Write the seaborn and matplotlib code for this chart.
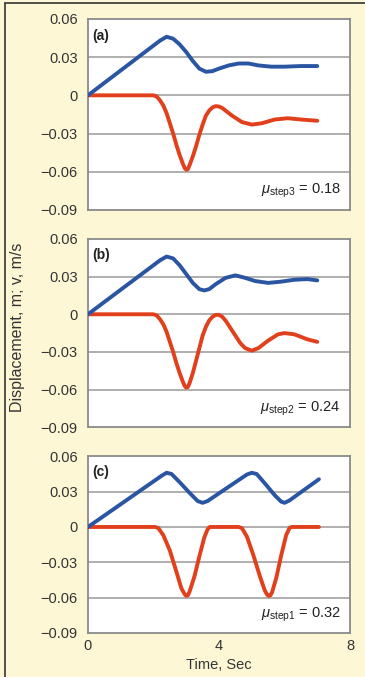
import numpy as np
import pandas as pd
import matplotlib
matplotlib.use("Agg")
import matplotlib.pyplot as plt
import seaborn as sns

# --- data (time in s, value in m or m/s) ---
blue_a_t = [0, 2.2, 2.4, 2.6, 2.8, 3.0, 3.2, 3.4, 3.6, 3.8, 4.0, 4.3, 4.6, 4.9, 5.2, 5.6, 6.0, 6.5, 7.0]
blue_a_v = [0, 0.043, 0.046, 0.0445, 0.04, 0.034, 0.027, 0.021, 0.0185, 0.019, 0.021, 0.0235, 0.025, 0.025,
            0.0235, 0.0225, 0.0225, 0.023, 0.023]
red_a_t = [0, 2.0, 2.1, 2.2, 2.3, 2.4, 2.5, 2.6, 2.7, 2.8, 2.9, 2.95, 3.0, 3.05, 3.1, 3.2, 3.3, 3.4, 3.5,
           3.6, 3.7, 3.8, 3.9, 4.0, 4.1, 4.4, 4.7, 5.0, 5.3, 5.7, 6.1, 6.5, 7.0]
red_a_v = [0, 0, -0.001, -0.004, -0.008, -0.014, -0.022, -0.03, -0.039, -0.047, -0.054, -0.057, -0.0585,
           -0.058, -0.055, -0.048, -0.04, -0.031, -0.023, -0.016, -0.012, -0.0095, -0.0085, -0.0088,
           -0.01, -0.016, -0.021, -0.023, -0.022, -0.019, -0.018, -0.019, -0.02]

blue_b_t = [0, 2.2, 2.4, 2.6, 2.8, 3.0, 3.2, 3.4, 3.55, 3.7, 3.9, 4.2, 4.5, 4.8, 5.1, 5.5, 5.9, 6.3, 6.7, 7.0]
blue_b_v = [0, 0.043, 0.046, 0.0445, 0.039, 0.032, 0.025, 0.02, 0.019, 0.02, 0.024, 0.029, 0.031, 0.029,
            0.0265, 0.025, 0.026, 0.0275, 0.028, 0.027]
red_b_t = [0, 2.0, 2.1, 2.2, 2.3, 2.4, 2.5, 2.6, 2.7, 2.8, 2.9, 2.95, 3.0, 3.05, 3.1, 3.2, 3.3, 3.4, 3.5,
           3.6, 3.7, 3.8, 3.9, 4.0, 4.1, 4.2, 4.35, 4.5, 4.65, 4.8, 5.0, 5.2, 5.5, 5.8, 6.0, 6.3, 6.7, 7.0]
red_b_v = [0, 0, -0.001, -0.004, -0.008, -0.014, -0.022, -0.03, -0.039, -0.047, -0.054, -0.057, -0.0585,
           -0.058, -0.055, -0.047, -0.037, -0.027, -0.017, -0.01, -0.005, -0.002, -0.0005, -0.0005,
           -0.002, -0.005, -0.011, -0.017, -0.023, -0.027, -0.029, -0.027, -0.021, -0.016, -0.015,
           -0.016, -0.02, -0.022]

blue_c_t = [0, 2.25, 2.4, 2.55, 2.8, 3.1, 3.35, 3.5, 3.65, 4.85, 5.0, 5.15, 5.4, 5.7, 5.9, 6.0, 6.15, 7.05]
blue_c_v = [0, 0.0435, 0.046, 0.045, 0.038, 0.029, 0.022, 0.0205, 0.022, 0.0445, 0.046, 0.045, 0.037,
            0.027, 0.0215, 0.0205, 0.0225, 0.0405]
red_c_t = [0, 2.05, 2.15, 2.3, 2.5, 2.7, 2.85, 2.95, 3.0, 3.05, 3.1, 3.25, 3.4, 3.55, 3.65, 3.72, 4.6, 4.7,
           4.85, 5.05, 5.25, 5.4, 5.47, 5.52, 5.57, 5.62, 5.75, 5.9, 6.05, 6.15, 6.22, 7.05]
red_c_v = [0, 0, -0.001, -0.007, -0.02, -0.038, -0.052, -0.057, -0.0585, -0.058, -0.055, -0.042, -0.025,
           -0.009, -0.002, 0, 0, -0.001, -0.008, -0.024, -0.042, -0.054, -0.0575, -0.0585, -0.058,
           -0.0555, -0.043, -0.024, -0.007, -0.001, 0, 0]

panel_labels = ["(a)", "(b)", "(c)"]
mu_names = ["step3", "step2", "step1"]
mu_values = ["0.18", "0.24", "0.32"]
y_ticks = [0.06, 0.03, 0, -0.03, -0.06, -0.09]
y_tick_labels = ["0.06", "0.03", "0", "\u22120.03", "\u22120.06", "\u22120.09"]
x_ticks = [0, 4, 8]

BG = "#fdf7d6"
BLUE = "#2a55a3"
RED = "#e2401c"

sns.set_style("white")
plt.rcParams['font.family'] = ['Liberation Sans', 'DejaVu Sans']
plt.rcParams['mathtext.fontset'] = 'custom'
plt.rcParams['mathtext.it'] = 'Liberation Sans:italic'
plt.rcParams['mathtext.rm'] = 'Liberation Sans'

fig = plt.figure(figsize=(3.65, 6.77), dpi=100, facecolor=BG)

# thin dark frame on top and left like the clipped source
fig.add_artist(plt.Line2D([0.014, 1.0], [0.996, 0.996], color="#333333", lw=1.2))
fig.add_artist(plt.Line2D([0.014, 0.014], [0.0, 0.996], color="#333333", lw=1.2))

boxes = [
    [0.241, 0.690, 0.718, 0.282],
    [0.241, 0.369, 0.718, 0.278],
    [0.241, 0.065, 0.718, 0.261],
]
series = [
    (blue_a_t, blue_a_v, red_a_t, red_a_v),
    (blue_b_t, blue_b_v, red_b_t, red_b_v),
    (blue_c_t, blue_c_v, red_c_t, red_c_v),
]

for i, box in enumerate(boxes):
    ax = fig.add_axes(box)
    ax.set_facecolor("white")
    bt, bv, rt, rv = series[i]
    df_b = pd.DataFrame({"t": bt, "v": bv})
    df_r = pd.DataFrame({"t": rt, "v": rv})
    for yv in y_ticks[1:-1]:
        ax.axhline(yv, color="#9a9a9a", lw=1.1, zorder=0)
    sns.lineplot(data=df_r, x="t", y="v", ax=ax, color=RED, lw=2.8, sort=False, zorder=3)
    sns.lineplot(data=df_b, x="t", y="v", ax=ax, color=BLUE, lw=2.8, sort=False, zorder=3)

    ax.set_xlim(0, 8)
    ax.set_ylim(-0.09, 0.06)
    ax.set_yticks(y_ticks)
    ax.set_yticklabels(y_tick_labels)
    ax.set_xticks(x_ticks)
    if i < 2:
        ax.set_xticklabels([])
    ax.set_xlabel("")
    ax.set_ylabel("")
    for s in ax.spines.values():
        s.set_color("#8a8a8a")
        s.set_linewidth(1.3)
    ax.tick_params(axis="y", direction="out", length=7, width=1.1, color="#8a8a8a",
                   labelsize=10.5, labelcolor="#333333", pad=0.5)
    ax.tick_params(axis="x", direction="out", length=4, width=1.1, color="#8a8a8a",
                   labelsize=10.5, labelcolor="#333333", pad=0)

    ax.text(0.015, 0.95, panel_labels[i], transform=ax.transAxes, ha="left", va="top",
            fontsize=10, fontweight="bold", color="#222222")
    ax.text(0.965, 0.1, r"$\mu_{\mathrm{" + mu_names[i] + "}}$ = " + mu_values[i],
            transform=ax.transAxes, ha="right", va="center", fontsize=10.5, color="#222222")

fig.text(0.049, 0.517, "Displacement, m; v, m/s", rotation=90, ha="center", va="center",
         fontsize=11.5, color="#333333")
fig.text(0.60, 0.018, "Time, Sec", ha="center", va="center", fontsize=10.5, color="#333333")

fig.savefig("out.png", dpi=100, facecolor=BG)
